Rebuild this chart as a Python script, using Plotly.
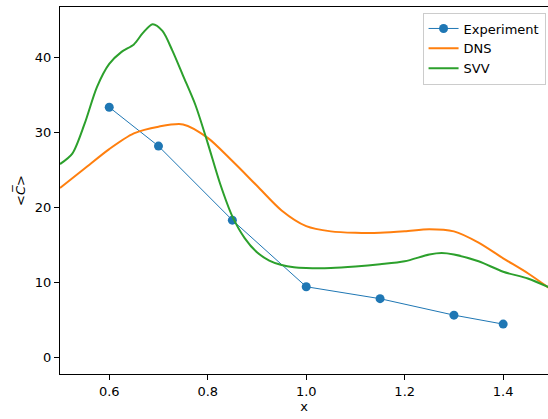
import plotly.graph_objects as go

x_exp = [0.6, 0.7, 0.85, 1.0, 1.15, 1.3, 1.4]
y_exp = [33.4, 28.2, 18.3, 9.4, 7.8, 5.6, 4.4]

x_dns = [0.5, 0.55, 0.6, 0.65, 0.7, 0.75, 0.8, 0.85, 0.9, 0.95, 1.0, 1.05, 1.1, 1.15, 1.2, 1.25, 1.3, 1.35, 1.4, 1.45, 1.5]
y_dns = [22.6, 25.2, 27.8, 29.9, 30.8, 31.1, 29.3, 26.2, 22.9, 19.6, 17.5, 16.8, 16.6, 16.6, 16.8, 17.1, 16.8, 15.3, 13.2, 11.2, 8.9]

x_svv = [0.5, 0.525, 0.55, 0.575, 0.6, 0.625, 0.65, 0.668, 0.688, 0.708, 0.728, 0.75, 0.775, 0.8, 0.825, 0.85, 0.875, 0.9, 0.925, 0.95, 0.975, 1.0, 1.05, 1.1, 1.15, 1.2, 1.25, 1.275, 1.3, 1.35, 1.4, 1.45, 1.5]
y_svv = [25.8, 27.2, 31.2, 36.1, 39.2, 40.8, 41.8, 43.3, 44.5, 43.6, 41.0, 37.6, 33.7, 28.6, 23.2, 18.8, 15.9, 14.0, 12.9, 12.3, 12.0, 11.9, 11.9, 12.1, 12.4, 12.8, 13.7, 13.9, 13.7, 12.8, 11.4, 10.5, 9.1]

x_ticks = [0.6, 0.8, 1.0, 1.2, 1.4]
y_ticks = [0, 10, 20, 30, 40]

fig = go.Figure()
fig.add_trace(go.Scatter(x=x_exp, y=y_exp, mode="lines+markers", name="Experiment",
                         line=dict(color="#1f77b4", width=1), marker=dict(size=9, color="#1f77b4")))
fig.add_trace(go.Scatter(x=x_dns, y=y_dns, mode="lines", name="DNS",
                         line=dict(color="#ff7f0e", width=2, shape="spline", smoothing=0.8)))
fig.add_trace(go.Scatter(x=x_svv, y=y_svv, mode="lines", name="SVV",
                         line=dict(color="#2ca02c", width=2, shape="spline", smoothing=0.8)))

axis_common = dict(showgrid=False, zeroline=False, showline=True, linecolor="black", linewidth=1,
                   ticks="outside", ticklen=5, tickcolor="black", tickwidth=1,
                   tickfont=dict(family="DejaVu Sans", size=13, color="black"))

fig.update_layout(
    width=548, height=419,
    margin=dict(l=60, r=0, t=7, b=45),
    plot_bgcolor="white", paper_bgcolor="white",
    font=dict(family="DejaVu Sans", size=13, color="black"),
    xaxis=dict(range=[0.5, 1.491], tickvals=x_ticks, tickformat=".1f", mirror=True,
               title=dict(text="x", standoff=4, font=dict(size=13)), **axis_common),
    yaxis=dict(range=[-2.27, 46.8], tickvals=y_ticks,
               title=dict(text="&lt;<i>C̅</i>&gt;", standoff=6, font=dict(size=13)), **axis_common),
    legend=dict(x=0.995, y=0.985, xanchor="right", yanchor="top", bgcolor="rgba(255,255,255,0.8)",
                bordercolor="#cccccc", borderwidth=1, font=dict(size=13), tracegroupgap=0,
                itemwidth=30),
    showlegend=True,
)

fig.write_html("out.html")
